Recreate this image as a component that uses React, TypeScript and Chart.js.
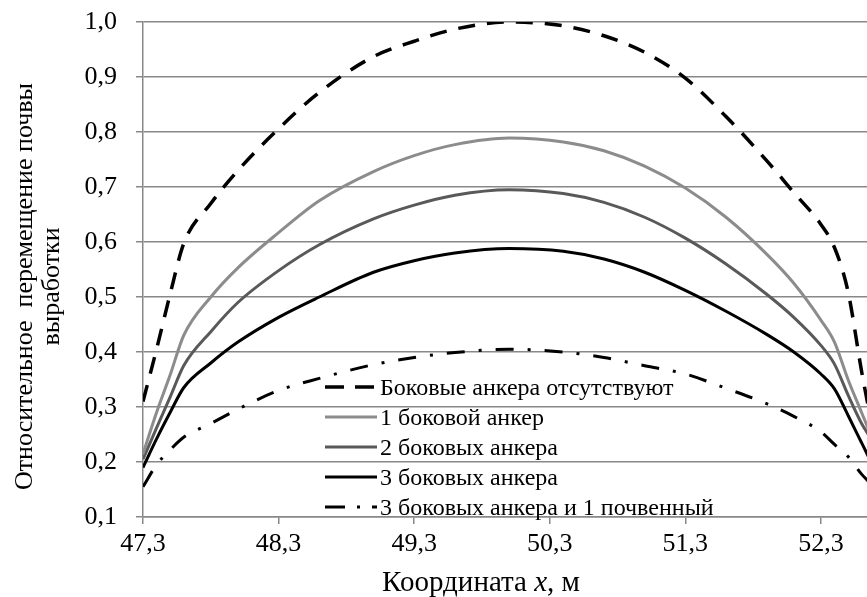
import React, { useEffect, useRef } from 'react';
import { Chart, registerables } from 'chart.js';

Chart.register(...registerables);

// ---------- data ----------
const xValues = [47.3, 47.4, 47.5, 47.6, 47.8, 48.0, 48.3, 48.6, 49.0, 49.3, 49.6, 50.0, 50.4, 50.7, 51.0, 51.3, 51.6, 51.9, 52.1, 52.3, 52.4, 52.5, 52.6, 52.65];

const noAnchors = [0.31, 0.405, 0.505, 0.597, 0.67, 0.73, 0.806, 0.872, 0.937, 0.965, 0.987, 1.0, 0.993, 0.975, 0.945, 0.898, 0.828, 0.748, 0.69, 0.632, 0.59, 0.51, 0.365, 0.30];
const oneAnchor = [0.215, 0.29, 0.358, 0.43, 0.50, 0.553, 0.617, 0.675, 0.728, 0.757, 0.777, 0.789, 0.782, 0.766, 0.738, 0.698, 0.645, 0.578, 0.525, 0.458, 0.418, 0.35, 0.29, 0.26];
const twoAnchors = [0.205, 0.262, 0.318, 0.375, 0.437, 0.49, 0.548, 0.595, 0.642, 0.667, 0.685, 0.695, 0.688, 0.672, 0.645, 0.607, 0.56, 0.505, 0.463, 0.412, 0.378, 0.322, 0.27, 0.25];
const threeAnchors = [0.19, 0.242, 0.29, 0.335, 0.38, 0.418, 0.463, 0.50, 0.545, 0.566, 0.58, 0.588, 0.583, 0.569, 0.545, 0.512, 0.474, 0.432, 0.40, 0.36, 0.333, 0.285, 0.235, 0.21];
const threePlusSoil = [0.155, 0.195, 0.222, 0.245, 0.27, 0.296, 0.33, 0.352, 0.377, 0.39, 0.399, 0.405, 0.40, 0.39, 0.375, 0.36, 0.334, 0.306, 0.283, 0.255, 0.232, 0.21, 0.178, 0.165];

const seriesLabels = [
  'Боковые анкера отсутствуют',
  '1 боковой анкер',
  '2 боковых анкера',
  '3 боковых анкера',
  '3 боковых анкера и 1 почвенный',
];

const xTicks = [47.3, 48.3, 49.3, 50.3, 51.3, 52.3];
const yTicks = [0.1, 0.2, 0.3, 0.4, 0.5, 0.6, 0.7, 0.8, 0.9, 1.0];

const yTitleLines = ['Относительное  перемещение почвы', 'выработки'];
const xTitleParts = [
  { text: 'Координата ', italic: false },
  { text: 'x', italic: true },
  { text: ', м', italic: false },
];

// ---------- styles ----------
const FONT = '"Liberation Serif", "Times New Roman", serif';
const TICK_SIZE = 26;
const LEGEND_SIZE = 24;
const YTITLE_SIZE = 26;
const XTITLE_SIZE = 29;
const GRID = '#888888';

const fmt = (v: number) => Number(v).toFixed(1).replace('.', ',');

const toPoints = (ys: number[]) => xValues.map((x, i) => ({ x, y: ys[i] }));

const overlayPlugin = {
  id: 'overlay',
  afterDraw(chart: any) {
    const { ctx, chartArea } = chart;
    ctx.save();
    ctx.fillStyle = '#000';

    // Y axis title (two rotated lines)
    ctx.save();
    ctx.font = `${YTITLE_SIZE}px ${FONT}`;
    ctx.textAlign = 'center';
    ctx.textBaseline = 'middle';
    ctx.translate(25, (chartArea.top + chartArea.bottom) / 2 + 17);
    ctx.rotate(-Math.PI / 2);
    yTitleLines.forEach((line, i) => ctx.fillText(line, 0, i * 27));
    ctx.restore();

    // X axis title with italic variable
    ctx.save();
    ctx.textBaseline = 'alphabetic';
    ctx.textAlign = 'left';
    const widths = xTitleParts.map((p) => {
      ctx.font = `${p.italic ? 'italic ' : ''}${XTITLE_SIZE}px ${FONT}`;
      return ctx.measureText(p.text).width;
    });
    const total = widths.reduce((a, b) => a + b, 0);
    let x = 481 - total / 2;
    const baseY = 591;
    xTitleParts.forEach((p, i) => {
      ctx.font = `${p.italic ? 'italic ' : ''}${XTITLE_SIZE}px ${FONT}`;
      ctx.fillText(p.text, x, baseY);
      x += widths[i];
    });
    ctx.restore();

    // Legend inside the plot area
    const lx0 = chartArea.left + 182;
    const lx1 = chartArea.left + 234;
    const ty = chartArea.top + 365;
    chart.data.datasets.forEach((ds: any, i: number) => {
      const y = ty + i * 30;
      ctx.save();
      ctx.strokeStyle = ds.borderColor;
      ctx.lineWidth = ds.borderWidth;
      ctx.setLineDash(ds.legendDash || []);
      ctx.beginPath();
      ctx.moveTo(lx0, y);
      ctx.lineTo(lx1, y);
      ctx.stroke();
      ctx.restore();
      ctx.font = `${LEGEND_SIZE}px ${FONT}`;
      ctx.textAlign = 'left';
      ctx.textBaseline = 'alphabetic';
      ctx.fillStyle = '#000';
      ctx.fillText(ds.label, lx1 + 3, y + 8);
    });
    ctx.restore();
  },
};

export default function App() {
  const canvasRef = useRef<HTMLCanvasElement | null>(null);

  useEffect(() => {
    if (!canvasRef.current) return;
    const common = {
      pointRadius: 0,
      pointHoverRadius: 0,
      fill: false,
      showLine: true,
      cubicInterpolationMode: 'monotone' as const,
    };
    const chart = new Chart(canvasRef.current, {
      type: 'scatter',
      data: {
        datasets: [
          { ...common, label: seriesLabels[0], data: toPoints(noAnchors), borderColor: '#000000', borderWidth: 3.5, borderDash: [17, 12], legendDash: [19, 11] } as any,
          { ...common, label: seriesLabels[1], data: toPoints(oneAnchor), borderColor: '#8c8c8c', borderWidth: 3 } as any,
          { ...common, label: seriesLabels[2], data: toPoints(twoAnchors), borderColor: '#595959', borderWidth: 3 } as any,
          { ...common, label: seriesLabels[3], data: toPoints(threeAnchors), borderColor: '#000000', borderWidth: 3 } as any,
          { ...common, label: seriesLabels[4], data: toPoints(threePlusSoil), borderColor: '#000000', borderWidth: 3, borderDash: [18, 14, 3, 14], legendDash: [20, 12, 3, 12] } as any,
        ],
      },
      options: {
        responsive: false,
        animation: false,
        layout: { padding: { top: 22, left: 0, right: 0, bottom: 0 } },
        plugins: {
          legend: { display: false },
          tooltip: { enabled: false },
        },
        scales: {
          x: {
            type: 'linear',
            min: 47.3,
            max: 52.64,
            afterBuildTicks: (s: any) => {
              s.ticks = xTicks.map((v) => ({ value: v }));
            },
            afterFit: (s: any) => {
              s.height = 80;
            },
            ticks: {
              callback: (v: any) => fmt(v),
              font: { family: FONT, size: TICK_SIZE },
              color: '#000',
              padding: 5,
              maxRotation: 0,
              autoSkip: false,
            },
            grid: { drawOnChartArea: false, drawTicks: true, tickLength: 7, color: GRID, lineWidth: 1.5 },
            border: { color: GRID, width: 1.5 },
          },
          y: {
            type: 'linear',
            min: 0.1,
            max: 1.0,
            afterBuildTicks: (s: any) => {
              s.ticks = yTicks.map((v) => ({ value: v }));
            },
            afterFit: (s: any) => {
              s.width = 143;
              s.paddingTop = 0;
              s.paddingBottom = 0;
            },
            ticks: {
              callback: (v: any) => fmt(v),
              font: { family: FONT, size: TICK_SIZE },
              color: '#000',
              padding: 19,
            },
            grid: { color: GRID, lineWidth: 1.5, tickLength: 7, drawTicks: true },
            border: { color: GRID, width: 1.5 },
          },
        },
      },
      plugins: [overlayPlugin],
    });
    return () => chart.destroy();
  }, []);

  return (
    <div style={{ position: 'absolute', left: 0, top: 0, width: 867, height: 597, background: '#fff' }}>
      <canvas ref={canvasRef} width={867} height={597} style={{ display: 'block' }} />
    </div>
  );
}
